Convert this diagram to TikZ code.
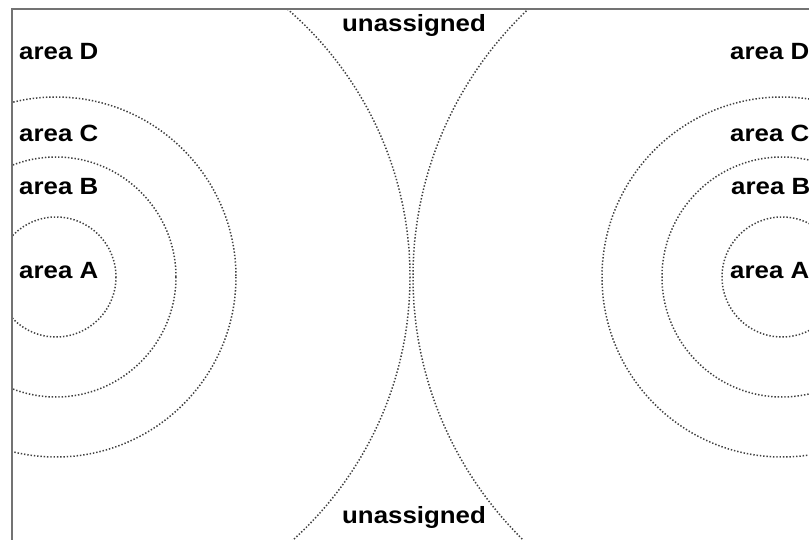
\documentclass[tikz,border=0pt]{standalone}
\usepackage{fontspec}
\setmainfont{Liberation Sans}
\begin{document}
\begin{tikzpicture}[x=1pt,y=-1pt,
  dots/.style={draw=black!75, line width=1.5pt, dash pattern=on 1.4pt off 1.9pt},
  frameline/.style={draw=black!55, line width=1.6pt},
  lbl/.style={anchor=base west, inner sep=0pt, font=\fontsize{23.5}{27}\selectfont\bfseries}]
\useasboundingbox (0,0) rectangle (809,540);
\fill[white] (0,0) rectangle (809,540);
\begin{scope}
  \clip (12,9) rectangle (809,540);
  \foreach \r in {60,120,180} {
    \draw[dots] (56,277) circle[radius=\r];
    \draw[dots] (782,277) circle[radius=\r];
  }
  \draw[dots] (56,277) circle[radius=354];
  \draw[dots] (782,277) circle[radius=369];
\end{scope}
\draw[frameline] (12,540) -- (12,9) -- (809,9);
\node[lbl] (lD) at (19,60) {\scalebox{1.1}[1]{area D}};
\node[lbl] (lC) at (19,142) {\scalebox{1.1}[1]{area C}};
\node[lbl] (lB) at (19,195) {\scalebox{1.1}[1]{area B}};
\node[lbl] (lA) at (19,279) {\scalebox{1.1}[1]{area A}};
\node[lbl] (rD) at (730,60) {\scalebox{1.1}[1]{area D}};
\node[lbl] (rC) at (730,142) {\scalebox{1.1}[1]{area C}};
\node[lbl] (rB) at (731,195) {\scalebox{1.1}[1]{area B}};
\node[lbl] (rA) at (730,279) {\scalebox{1.1}[1]{area A}};
\node[lbl] (ut) at (342,32) {\scalebox{1.1}[1]{unassigned}};
\node[lbl] (ub) at (342,523) {\scalebox{1.1}[1]{unassigned}};
\end{tikzpicture}
\end{document}
